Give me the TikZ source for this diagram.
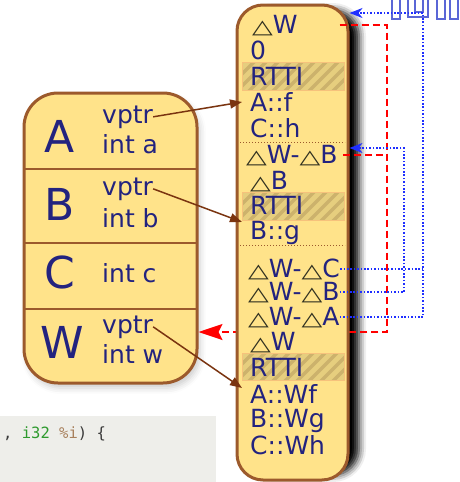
\documentclass[tikz,border=0pt]{standalone}
\usepackage{fontspec}
\setmainfont{DejaVu Sans}
\newfontfamily\codefont{DejaVu Sans Mono}
\usepackage{graphicx}
\usetikzlibrary{arrows.meta,shadows.blur,calc}
\definecolor{boxfill}{HTML}{FFE38A}
\definecolor{boxline}{HTML}{9C5A2C}
\definecolor{navy}{HTML}{23237F}
\definecolor{arrbrown}{HTML}{7A3410}
\definecolor{rttifill}{HTML}{E6CE7E}
\definecolor{rttistripe}{HTML}{CCB26C}
\definecolor{rttiedge}{HTML}{F6C27C}
\definecolor{conblue}{HTML}{1F2FFF}
\definecolor{outblue}{HTML}{5A66D6}
\definecolor{codebg}{HTML}{EEEEEA}
\definecolor{codegreen}{HTML}{2E9A2E}
\definecolor{codebrown}{HTML}{A8805C}
\definecolor{codedark}{HTML}{3A3A3A}
\definecolor{tricol}{HTML}{303020}
\newcommand{\dtri}{{\color{tricol}\fontsize{27}{27}\selectfont\scalebox{1}[0.72]{△}}}
\tikzset{
  vt/.style={anchor=base west, inner sep=0pt, text=navy, font=\fontsize{25}{25}\selectfont},
  lt/.style={anchor=base west, inner sep=0pt, text=navy, font=\fontsize{25}{25}\selectfont},
  bigl/.style={anchor=base, inner sep=0pt, text=navy, font=\fontsize{44}{44}\selectfont},
  bcon/.style={conblue, line width=1.6pt, dash pattern=on 1.6pt off 1.8pt},
  btip/.style={-{Stealth[length=13pt,width=10pt,inset=4pt]}},
  redcon/.style={red, line width=2pt, dash pattern=on 7pt off 4pt},
  brarr/.style={arrbrown, line width=1.5pt, -{Triangle[length=12pt,width=9pt]}},
  outrect/.style={outblue, line width=1.2pt},
  divline/.style={boxline, line width=2pt},
  dotdiv/.style={boxline, line width=1pt, dash pattern=on 1pt off 2pt},
}
\begin{document}
\begin{tikzpicture}[x=1pt,y=-1pt]
\useasboundingbox (0,0) rectangle (459,482);

% code fragment
\fill[codebg] (0,416) rectangle (216,490);
\node[anchor=base west, inner sep=0pt, font=\codefont\fontsize{15.5}{15.5}\selectfont] (code) at (3,438)
  {\textcolor{codedark}{,} \textcolor{codegreen}{i32} \textcolor{codebrown}{\%i}\textcolor{codedark}{) \{}};

% cropped outlines top right
\draw[outrect] (392,-2) rectangle (400,19);
\draw[outrect] (408,-2) rectangle (428,17);
\draw[outrect] (415,-2) rectangle (423,12);
\draw[outrect] (437,-2) rectangle (445,19);
\draw[outrect] (450,-2) rectangle (458,19);

% left object box
\node[draw=boxline, fill=boxfill, line width=3pt, rounded corners=34pt,
      minimum width=173pt, minimum height=290pt, inner sep=0pt,
      blur shadow={shadow xshift=3pt, shadow yshift=-5pt, shadow opacity=20, shadow blur radius=6pt}]
      (lbox) at (110.5,238) {};
\draw[divline] (24,169) -- (197,169);
\draw[divline] (24,243) -- (197,243);
\draw[divline] (24,309) -- (197,309);

\node[bigl] (lA) at (60,152) {A};
\node[bigl] (lB) at (60,220) {B};
\node[bigl] (lC) at (60,288) {C};
\node[bigl] (lW) at (62,358) {W};
\node[lt] (lAv) at (102,123) {vptr};
\node[lt] (lAi) at (102,153) {int a};
\node[lt] (lBv) at (102,195) {vptr};
\node[lt] (lBi) at (102,227) {int b};
\node[lt] (lCi) at (102,282) {int c};
\node[lt] (lWv) at (102,333) {vptr};
\node[lt] (lWi) at (102,363) {int w};

% vtable shadow
\path[rounded corners=26pt, blur shadow={shadow xshift=11pt, shadow yshift=0pt, shadow opacity=100, shadow blur radius=7pt}]
  (237,10) rectangle (348,475);

\coordinate (c1) at (423,13);
\coordinate (c2) at (404,148);
\coordinate (r1) at (387,332);
\coordinate (vedge) at (349.5,240);

% red dashed part running behind the vtable
\draw[redcon, -{Stealth[length=24pt,width=16pt,inset=4pt]}] (r1 -| vedge) -- (r1 -| lbox.east);

% vtable box
\node[draw=boxline, fill=boxfill, line width=3pt, rounded corners=26pt,
      minimum width=111pt, minimum height=475pt, inner sep=0pt] (vbox) at (292.5,242.5) {};

\foreach \ya/\yb in {62/90,192/220,353/380}{
  \begin{scope}
    \clip (242,\ya) rectangle (344,\yb);
    \fill[rttifill] (242,\ya) rectangle (344,\yb);
    \foreach \s in {0,12,...,144}{\draw[rttistripe, line width=3.5pt] (212+\s,\yb+2) -- ++(32,-32);}
  \end{scope}
  \draw[rttiedge, line width=1pt] (242,\ya) rectangle (344,\yb);
}
\draw[dotdiv] (240,142) -- (345,142);
\draw[dotdiv] (240,245) -- (345,245);

\node[vt] (vW1) at (252,33) {\dtri W};
\node[vt] (v0) at (250,59) {0};
\node[vt] (vR1) at (250,85) {RTTI};
\node[vt] (vAf) at (250,111) {A::f};
\node[vt] (vCh) at (250,137) {C::h};
\node[vt] (vWB1) at (246,163) {\dtri W-\dtri B};
\node[vt] (vB) at (250,189) {\dtri B};
\node[vt] (vR2) at (250,214) {RTTI};
\node[vt] (vBg) at (250,239) {B::g};
\node[vt] (vWC) at (248,277) {\dtri W-\dtri C};
\node[vt] (vWB2) at (248,300) {\dtri W-\dtri B};
\node[vt] (vWA) at (248,325) {\dtri W-\dtri A};
\node[vt] (vW2) at (250,350) {\dtri W};
\node[vt] (vR3) at (250,376) {RTTI};
\node[vt] (vAWf) at (250,403) {A::Wf};
\node[vt] (vBWg) at (250,427) {B::Wg};
\node[vt] (vCWh) at (250,454) {C::Wh};

% red dashed connectors
\draw[redcon] ($(vbox.east |- vW1.east)+(-10,0)$) -| (r1) -- (r1 -| vedge);
\draw[redcon] ($(vWB1.east)+(5,0)$) -- (vWB1.east -| r1);

% blue dotted connectors
\draw[bcon] (vWC.east) -- (vWC.east -| c1);
\draw[bcon, btip] (vWA.east) -| (c1) -- (c1 -| vbox.east);
\draw[bcon, btip] (vWB2.east) -| (c2) -- (c2 -| vbox.east);

% vptr arrows
\draw[brarr] (lAv.east) -- ([xshift=-8pt,yshift=9pt]vAf.base west);
\draw[brarr] (lBv.east) -- ([xshift=-8pt,yshift=17pt]vBg.base west);
\draw[brarr] (lWv.east) -- ([xshift=-8pt,yshift=15pt]vAWf.base west);
\end{tikzpicture}
\end{document}
